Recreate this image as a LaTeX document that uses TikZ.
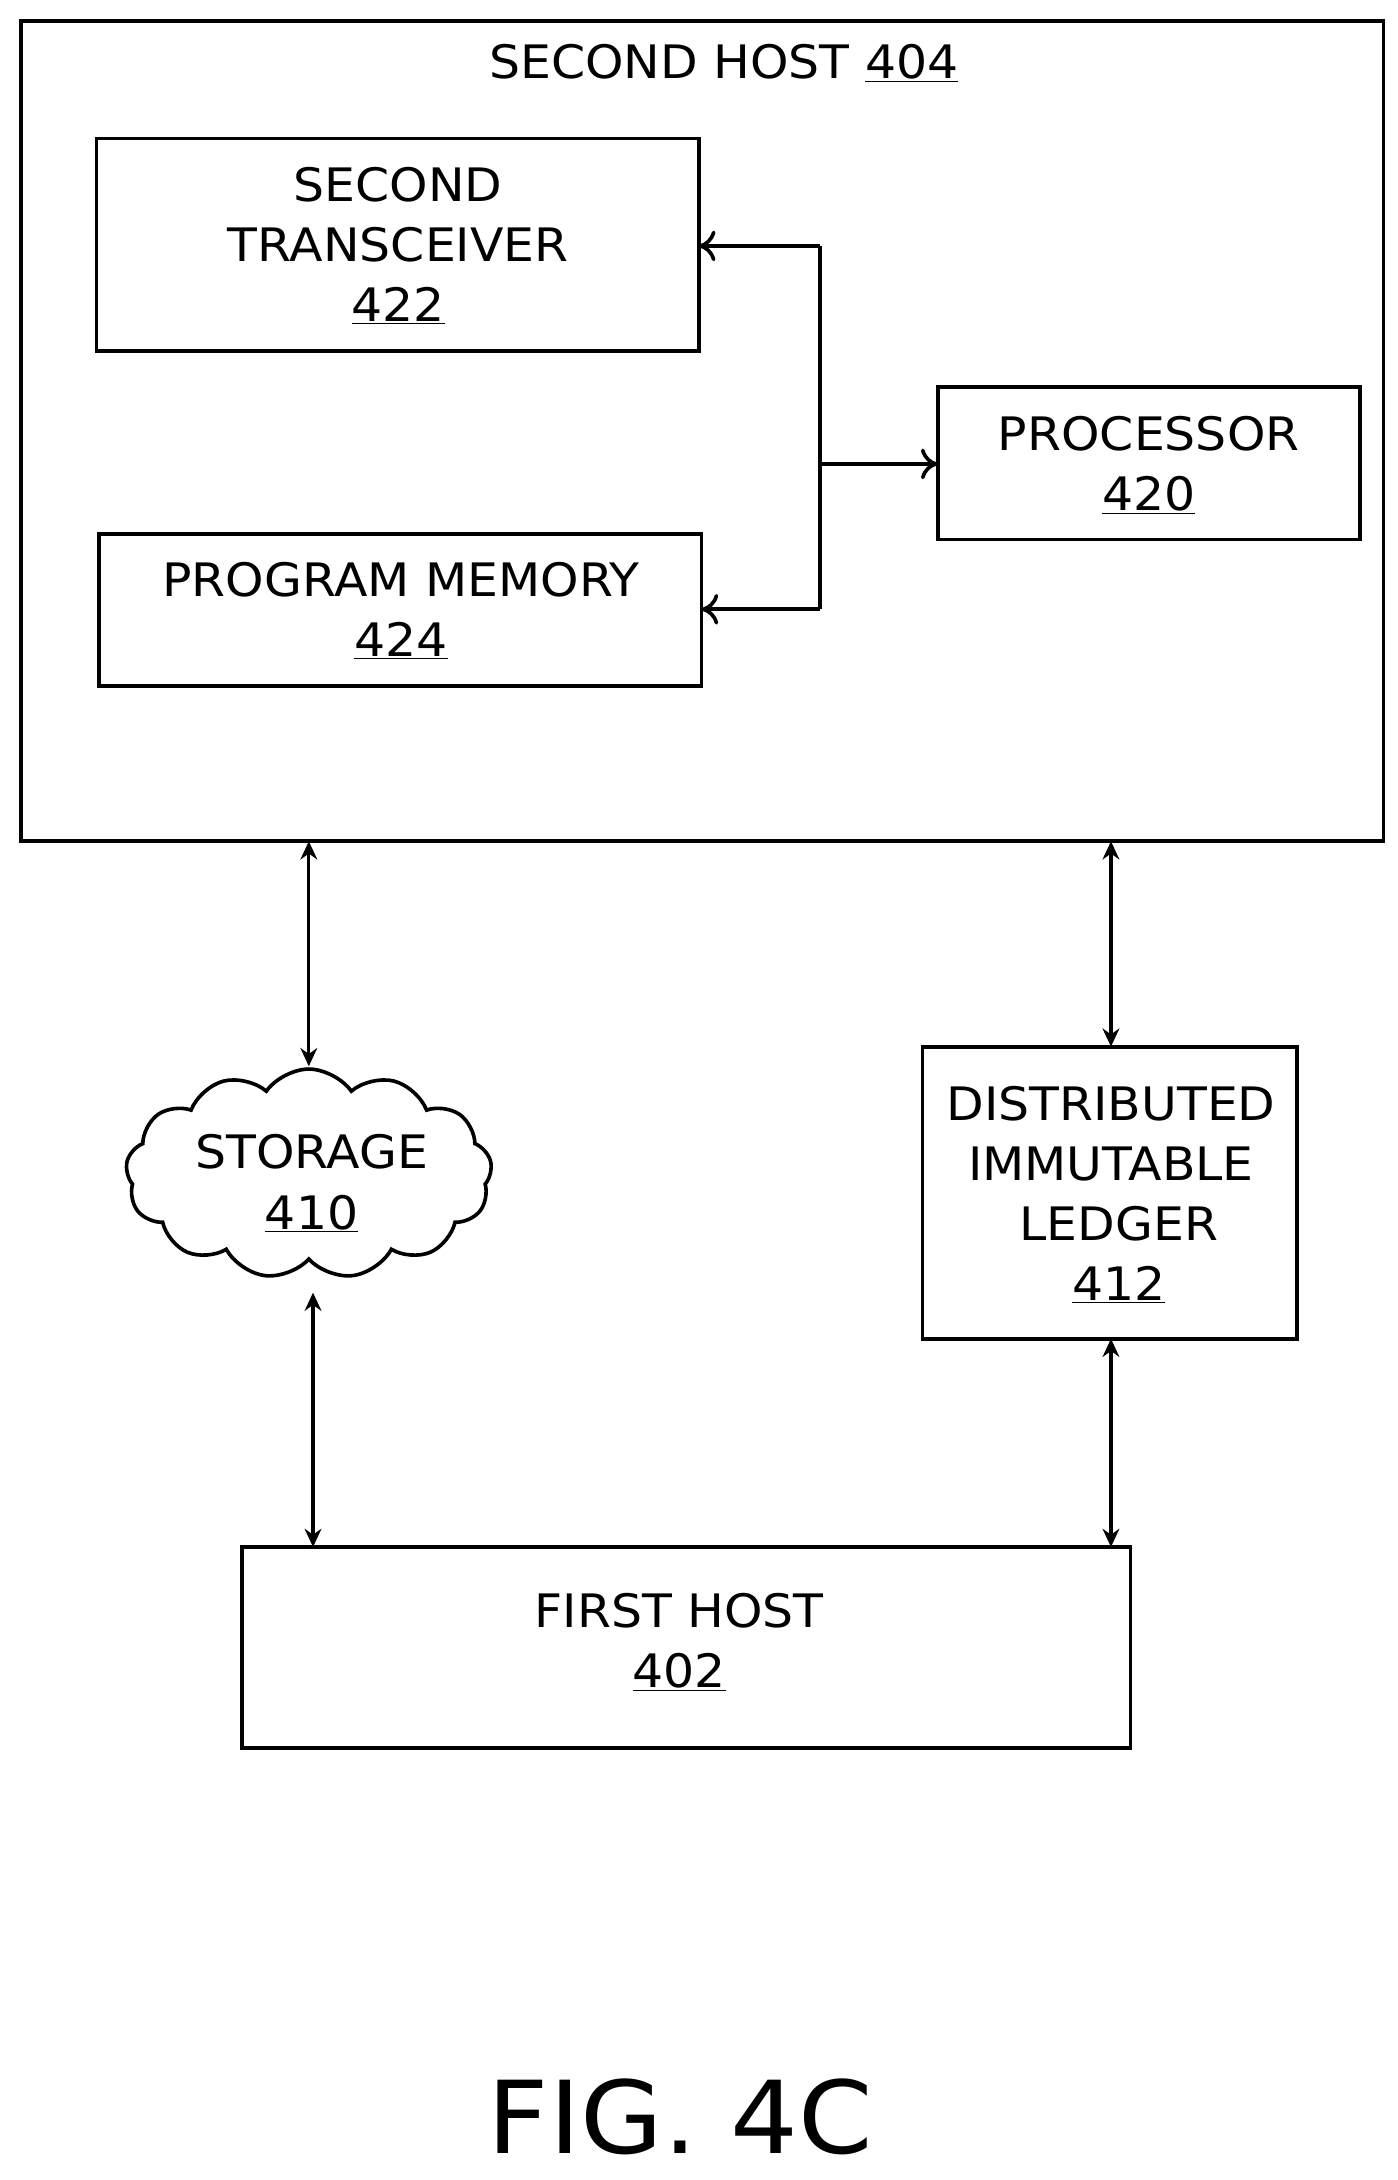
\documentclass[tikz,border=0pt]{standalone}
\usepackage{fontspec}
\setmainfont{DejaVu Sans}[FakeStretch=1.06]
\usetikzlibrary{shapes.symbols,arrows.meta}
\begin{document}
\begin{tikzpicture}[x=1pt,y=-1pt,
  box/.style={draw,line width=2.6pt},
  lbl/.style={font=\fontsize{33}{43}\selectfont,align=center},
  inarr/.style={line width=2.6pt,-{To[length=12pt,width=22pt]}},
  dbl/.style={line width=2.2pt,{Stealth[length=13pt,width=12pt]}-{Stealth[length=13pt,width=12pt]}}]
\useasboundingbox (0,0) rectangle (1000,1560);
\draw[box] (15,15) rectangle (990,602);
\node[lbl] (t404) at (518,45) {SECOND HOST \underline{404}};
\draw[box] (69,99) rectangle (500,251);
\node[lbl] (t422) at (285,176) {SECOND\\TRANSCEIVER\\\underline{422}};
\draw[box] (71,382) rectangle (502,491);
\node[lbl] (t424) at (287,437) {PROGRAM MEMORY\\\underline{424}};
\draw[box] (671,277) rectangle (973,386);
\node[lbl] (t420) at (822,333) {PROCESSOR\\\underline{420}};
\coordinate (a) at (587,176);
\coordinate (b) at (587,436);
\coordinate (m) at (587,332);
\draw[line width=2.6pt] (a) -- (b);
\draw[inarr] (a) -- (500,176);
\draw[inarr] (b) -- (502,436);
\draw[inarr] (m) -- (671,332);
\node[draw,line width=2.6pt,cloud,cloud puffs=13,cloud puff arc=110,aspect=1.8,minimum width=262pt,minimum height=150pt] (st) at (221,840) {};
\node[lbl] at (223,847) {STORAGE\\\underline{410}};
\draw[box] (660,749) rectangle (928,958);
\node[lbl] (t412) at (795,855) {DISTRIBUTED\\IMMUTABLE\\\ LEDGER\\\ \underline{412}};
\draw[box] (173,1107) rectangle (809,1251);
\node[lbl] (t402) at (486,1175) {FIRST HOST\\\underline{402}};
\draw[dbl] (221,602) -- (221,763);
\draw[dbl] (224,925) -- (224,1107);
\draw[dbl] (795,602) -- (795,749);
\draw[dbl] (795,958) -- (795,1107);
\node[font=\fontsize{72}{80}\selectfont] (fig) at (487,1515) {FIG. 4C};
\end{tikzpicture}
\end{document}
